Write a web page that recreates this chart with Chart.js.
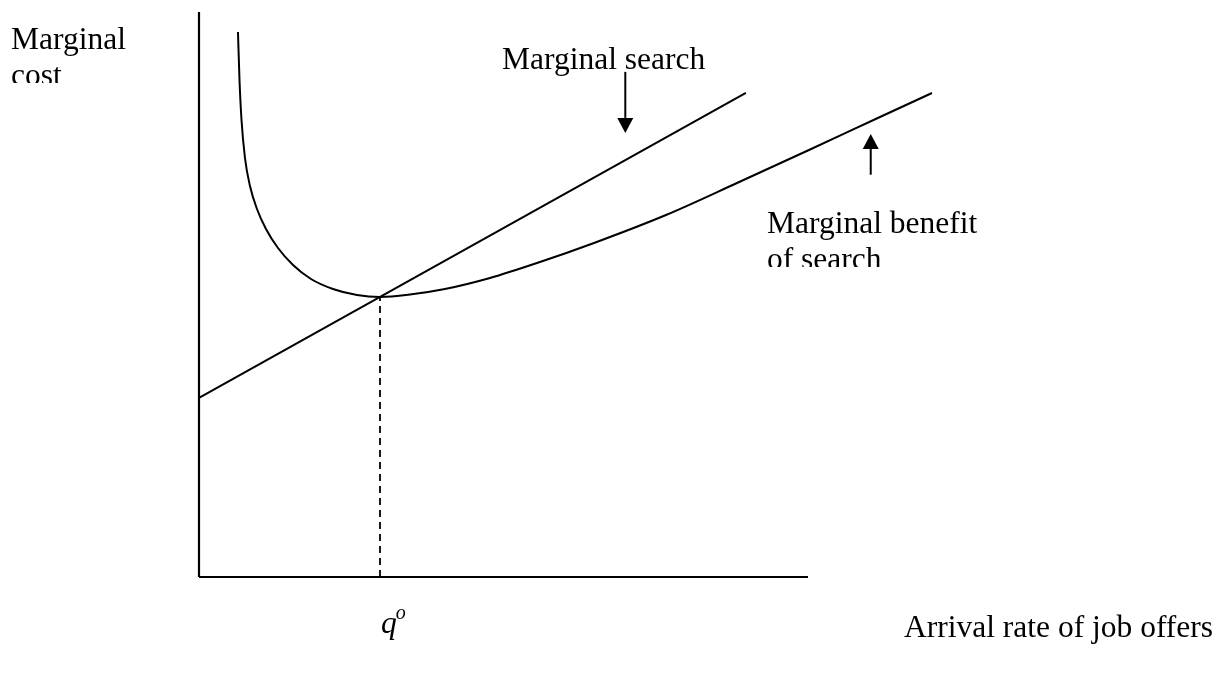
<!DOCTYPE html>
<html><head><meta charset="utf-8">
<script src="https://cdn.jsdelivr.net/npm/chart.js@4.4.1/dist/chart.umd.min.js"></script>
<style>html,body{margin:0;padding:0;background:#fff;overflow:hidden}#wrap{position:relative;width:1222px;height:688px}</style>
</head><body><div id="wrap"><canvas id="c" width="1222" height="688"></canvas></div>
<script>
// ---- Data (abstract units) ----
const searchCostX = [0, 8.98];
const searchCostY = [3.17, 8.57];
const benefitX = [0.640, 0.665, 0.698, 0.755, 0.837, 0.952, 1.100, 1.297, 1.544, 1.839, 2.200, 2.594, 2.972, 3.465, 4.039, 4.778, 5.599, 6.486, 7.668, 8.834, 10.016, 11.182, 12.036];
const benefitY = [9.646, 8.796, 8.088, 7.416, 6.920, 6.513, 6.159, 5.823, 5.522, 5.274, 5.097, 4.991, 4.956, 5.000, 5.097, 5.292, 5.575, 5.912, 6.407, 6.973, 7.558, 8.142, 8.566];
const optimumX = [2.972, 2.972];
const optimumY = [0, 4.956];
const axisX = [0, 10];
const axisY = [0, 10];
const arrowX = [7.0, 11.03];
const arrowFromY = [8.94, 7.12];
const arrowToY = [7.86, 7.84];
const labelTexts = [["Marginal", "cost"], ["Marginal search"], ["Marginal benefit", "of search"], ["Arrival rate of job offers"]];
const optimumLabel = ["q", "o"];

// ---- Styling / layout ----
const FONT = "'Liberation Serif', 'Times New Roman', serif";
const labelLayout = [
  {x: 11, y: 49, clip: 83},
  {x: 502, y: 69, clip: null},
  {x: 767, y: 233, clip: 267},
  {x: 904, y: 637, clip: null}
];

const pts = (xs, ys) => xs.map((x, i) => ({x, y: ys[i]}));

const arrowPlugin = {
  id: 'arrows',
  afterDatasetsDraw(chart) {
    const {ctx, scales: {x, y}} = chart;
    ctx.save();
    ctx.strokeStyle = '#000'; ctx.fillStyle = '#000'; ctx.lineWidth = 2;
    arrowX.forEach((ax, i) => {
      const px = x.getPixelForValue(ax);
      const y0 = y.getPixelForValue(arrowFromY[i]);
      const y1 = y.getPixelForValue(arrowToY[i]);
      const dir = Math.sign(y1 - y0);
      const headLen = 15, headW = 8;
      ctx.beginPath();
      ctx.moveTo(px, y0);
      ctx.lineTo(px, y1 - dir * headLen);
      ctx.stroke();
      ctx.beginPath();
      ctx.moveTo(px, y1);
      ctx.lineTo(px - headW, y1 - dir * headLen);
      ctx.lineTo(px + headW, y1 - dir * headLen);
      ctx.closePath();
      ctx.fill();
    });
    ctx.restore();
  }
};

const textPlugin = {
  id: 'texts',
  afterDraw(chart) {
    const {ctx, scales: {x}} = chart;
    ctx.save();
    ctx.fillStyle = '#000';
    ctx.textBaseline = 'alphabetic';
    ctx.font = '31.5px ' + FONT;
    labelTexts.forEach((lines, i) => {
      const L = labelLayout[i];
      ctx.save();
      if (L.clip !== null) {
        ctx.beginPath();
        ctx.rect(0, 0, 1222, L.clip);
        ctx.clip();
      }
      lines.forEach((t, k) => ctx.fillText(t, L.x, L.y + k * 36));
      ctx.restore();
    });
    const qx = x.getPixelForValue(optimumX[0]) + 1;
    ctx.font = 'italic 31.5px ' + FONT;
    ctx.fillText(optimumLabel[0], qx, 633);
    const qw = ctx.measureText(optimumLabel[0]).width;
    ctx.font = 'italic 20px ' + FONT;
    ctx.fillText(optimumLabel[1], qx + qw - 1, 619);
    ctx.restore();
  }
};

new Chart(document.getElementById('c'), {
  type: 'scatter',
  data: {
    datasets: [
      {data: pts([0, 0], axisY), showLine: true, borderColor: '#000', borderWidth: 2.2, pointRadius: 0, clip: false},
      {data: pts(axisX, [0, 0]), showLine: true, borderColor: '#000', borderWidth: 2.2, pointRadius: 0, clip: false},
      {data: pts(searchCostX, searchCostY), showLine: true, borderColor: '#000', borderWidth: 2, pointRadius: 0, clip: false},
      {data: pts(benefitX, benefitY), showLine: true, borderColor: '#000', borderWidth: 2, pointRadius: 0, cubicInterpolationMode: 'monotone', clip: false},
      {data: pts(optimumX, optimumY), showLine: true, borderColor: '#000', borderWidth: 1.8, borderDash: [7, 5], pointRadius: 0, clip: false}
    ]
  },
  options: {
    responsive: false,
    animation: false,
    devicePixelRatio: 1,
    layout: {padding: {left: 199, top: 12, right: 1222 - (199 + 13 * 60.9), bottom: 111}},
    scales: {
      x: {type: 'linear', min: 0, max: 13, display: false},
      y: {type: 'linear', min: 0, max: 10, display: false}
    },
    plugins: {legend: {display: false}, tooltip: {enabled: false}}
  },
  plugins: [arrowPlugin, textPlugin]
});
</script></body></html>
